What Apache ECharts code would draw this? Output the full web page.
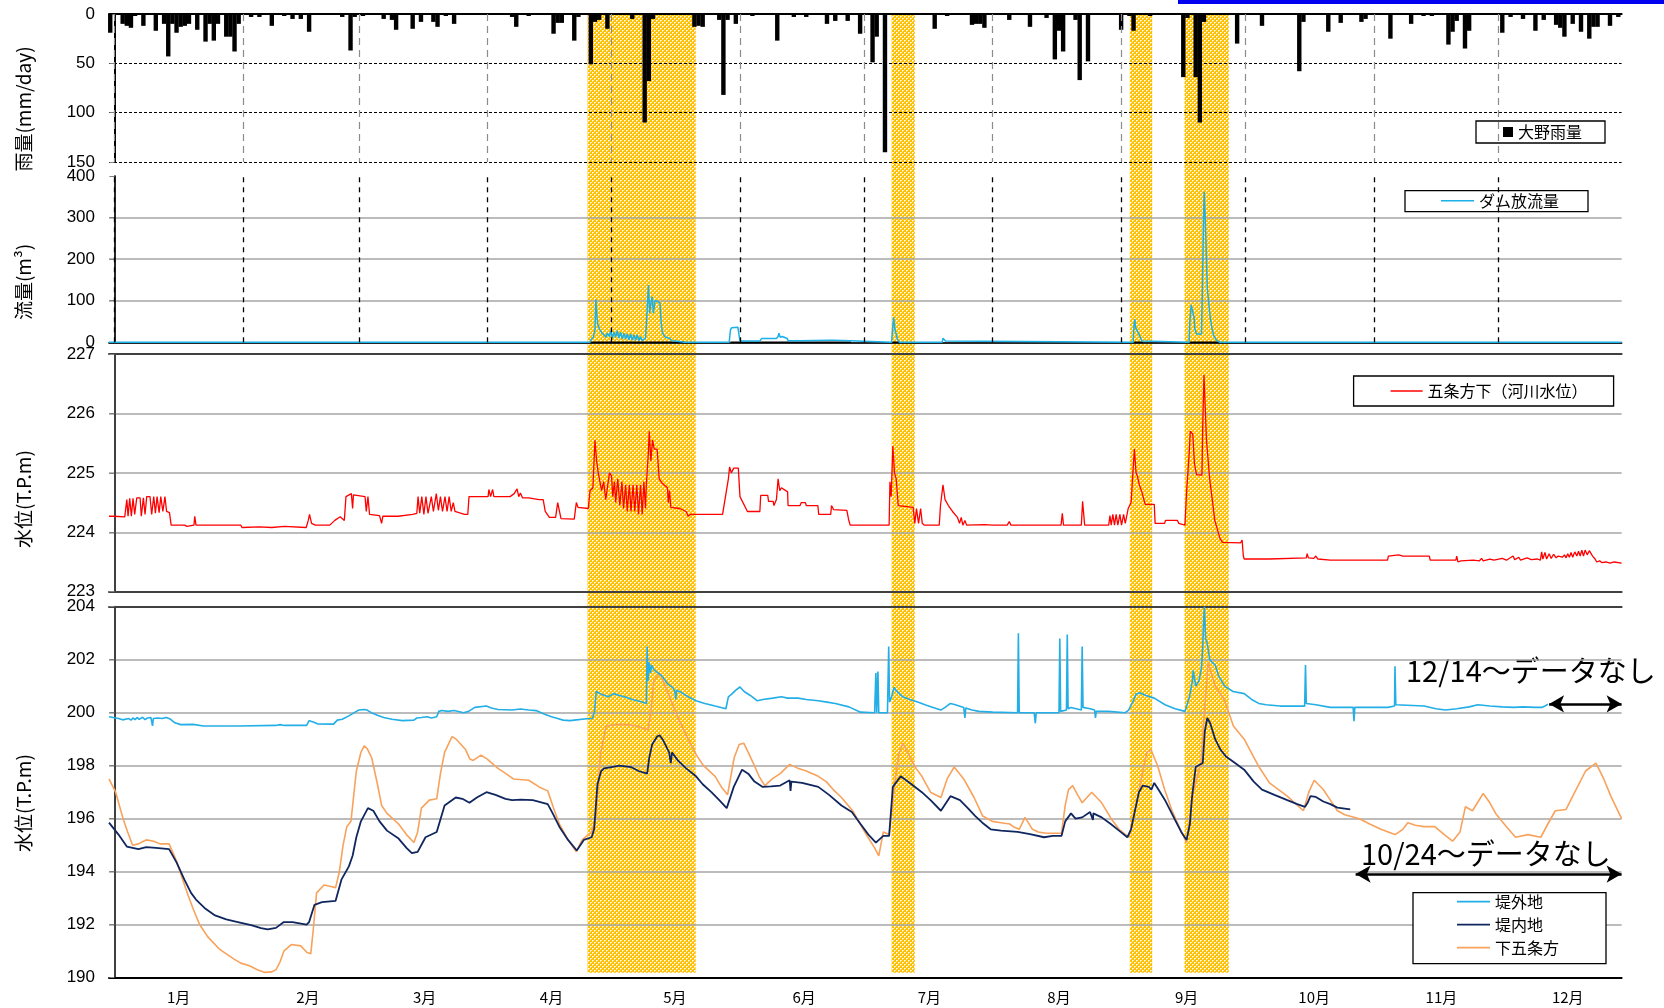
<!DOCTYPE html>
<html>
<head>
<meta charset="utf-8">
<script src="https://cdn.jsdelivr.net/npm/echarts@6/dist/echarts.min.js"></script>
<style>
  html, body { margin: 0; padding: 0; background: #fff; }
  #chart { width: 1664px; height: 1008px; }
</style>
</head>
<body>
<div id="chart"></div>
<script>
// ---- x axis: day offsets from 1 Jan (day 0) ----
const X_MIN = -1.3, X_MAX = 363.8;
const monthStartDays = [0, 31, 59, 90, 120, 151, 181, 212, 243, 273, 304, 334];
const monthLabels = ['1月', '2月', '3月', '4月', '5月', '6月', '7月', '8月', '9月', '10月', '11月', '12月'];
const monthLabelDays = [15.5, 46.7, 74.9, 105.5, 135.3, 166.5, 196.7, 228, 258.8, 289.6, 320.3, 350.8];

// flood periods [startDay, endDay]
const floodBands = [[114.2, 140.3], [187.6, 193.2], [245.1, 250.5], [258.3, 269.0]];

// 大野雨量 (mm/day): [day, mm]
const rainfall = [[-1,19],[2,10],[3,12],[4,14],[5,2],[7,12],[10,17],[12,10],[13,43],[14,10],[15,19],[16,13],[17,12],[18,10],[20,16],[22,28],[23,10],[24,27],[25,10],[27,23],[28,23],[29,38],[30,10],[33,3],[35,3],[38,12],[41,2],[43,5],[45,5],[47,18],[55,3],[57,37],[58,3],[60,2],[65,5],[67,6],[68,16],[72,15],[74,8],[77,8],[78,13],[80,2],[82,10],[96,3],[97,13],[100,2],[106,20],[107,9],[108,9],[111,27],[112,3],[115,51],[116,8],[117,6],[119,15],[125,5],[128,110],[129,68],[130,5],[140,13],[141,12],[142,13],[146,6],[147,82],[148,6],[150,10],[154,2],[160,27],[164,3],[167,3],[172,10],[174,7],[177,7],[180,20],[183,49],[184,23],[186,140],[198,15],[201,2],[207,11],[208,10],[209,10],[210,14],[216,6],[221,13],[225,4],[227,46],[228,17],[229,38],[232,6],[233,67],[235,48],[243,16],[245,2],[246,17],[250,2],[258,64],[259,4],[261,64],[262,110],[263,8],[271,30],[277,12],[286,58],[287,8],[293,18],[296,9],[301,8],[302,5],[308,25],[313,10],[316,2],[318,2],[322,31],[323,18],[324,7],[326,35],[327,17],[335,19],[337,3],[340,5],[343,17],[345,6],[348,11],[349,14],[350,23],[352,10],[354,18],[356,25],[357,13],[358,13],[361,12],[363,3]];

// ダム放流量 (m3/s): [day, value]
const damFlow = [[-1.3,0],[114.8,0],[115,6],[115.6,12],[116,30],[116.2,103],[116.5,60],[116.7,42],[117.2,30],[117.7,22],[118.2,18],[118.6,12],[119,22],[119.5,14],[119.8,28],[120.2,10],[120.6,25],[121,12],[121.4,28],[121.8,10],[122.2,24],[122.6,8],[123,22],[123.4,8],[123.8,20],[124.2,6],[124.6,20],[125,5],[125.4,18],[125.8,5],[126.2,18],[126.6,4],[127,14],[127.4,4],[127.8,8],[128.2,10],[128.5,60],[128.9,138],[129.2,70],[129.5,95],[129.8,110],[130.1,70],[130.5,100],[131.2,98],[131.7,93],[132,45],[132.3,22],[133,12],[134,10],[134.5,4],[135.5,3],[137.5,0],[148.4,0],[148.7,30],[149,35],[150.5,36],[150.8,33],[151,3],[155.8,3],[156.2,9],[159.8,9],[160.2,14],[160.4,22],[160.7,12],[161.2,14],[162.4,9],[162.6,4],[165.6,4],[166,5],[172.8,5],[173.1,8],[173.5,5],[177.6,4],[177.8,0],[187.6,0],[187.9,40],[188.1,60],[188.4,30],[188.7,20],[189,8],[189.5,0],[199.8,0],[200,10],[200.3,12],[200.6,3],[200.9,0],[245.9,0],[246.1,40],[246.3,55],[246.5,35],[246.8,30],[247.2,28],[247.5,15],[248,3],[248.4,0],[259.4,0],[259.6,50],[259.9,90],[260.3,88],[260.6,60],[260.8,32],[261.2,20],[262.4,20],[262.6,120],[262.9,300],[263.05,362],[263.3,300],[263.6,200],[263.8,130],[264.1,100],[264.5,60],[265,30],[265.4,15],[266,5],[266.8,0],[363.8,0]];
// periods drawn with a dark base line under the discharge trace
const damBaseSpans = [[115, 137.6], [148.7, 177.8], [187.8, 189.5], [246.2, 248.2], [259.7, 266.9]];

// 五条方下（河川水位） T.P.m
const riverLevel = [[-1.3,224.27],[0,224.27],[2.5,224.26],[3,224.55],[3.3,224.27],[3.7,224.57],[4.1,224.27],[4.5,224.57],[4.9,224.3],[5.4,224.58],[6.2,224.58],[6.5,224.27],[7,224.58],[7.4,224.3],[7.8,224.6],[8.6,224.6],[9,224.3],[9.5,224.6],[9.9,224.32],[10.3,224.6],[10.8,224.33],[11.2,224.6],[11.7,224.35],[12.2,224.6],[12.6,224.35],[13.3,224.33],[13.7,224.12],[17,224.12],[17.5,224.1],[19.2,224.12],[19.4,224.27],[19.7,224.12],[30.5,224.12],[30.8,224.08],[35,224.09],[38,224.08],[41,224.1],[46.3,224.08],[46.8,224.2],[47.1,224.3],[47.6,224.15],[48.5,224.12],[52,224.12],[53.2,224.2],[54.5,224.26],[55.5,224.2],[55.9,224.6],[57.2,224.65],[57.5,224.4],[57.7,224.63],[60.5,224.6],[60.8,224.35],[61.2,224.6],[61.6,224.3],[64,224.28],[64.5,224.15],[64.8,224.27],[68.5,224.27],[72,224.3],[73,224.32],[73.3,224.6],[73.7,224.32],[74.2,224.6],[74.7,224.3],[75.2,224.6],[75.7,224.32],[76.5,224.6],[77,224.35],[77.7,224.65],[78.2,224.37],[78.7,224.6],[79.2,224.35],[79.8,224.6],[80.3,224.35],[80.8,224.6],[81.3,224.35],[81.8,224.5],[82.2,224.35],[84.5,224.3],[85.3,224.3],[85.6,224.6],[90.2,224.6],[90.4,224.72],[90.8,224.6],[91.3,224.72],[91.6,224.6],[95.5,224.6],[96.5,224.65],[97.2,224.73],[97.6,224.6],[98,224.66],[98.5,224.58],[100,224.58],[102.5,224.55],[103.5,224.55],[104,224.35],[105,224.25],[106.5,224.25],[107,224.5],[107.4,224.5],[107.8,224.23],[111,224.22],[111.5,224.5],[111.9,224.42],[114.4,224.4],[114.8,224.7],[115.5,224.75],[116,225.55],[116.4,225.2],[116.8,225.0],[117.2,224.85],[117.6,224.7],[118.1,224.85],[118.6,224.55],[119,224.75],[119.5,225.0],[120,224.95],[120.3,224.6],[120.7,224.85],[121,224.5],[121.5,224.9],[122,224.45],[122.5,224.85],[122.9,224.4],[123.4,224.8],[123.8,224.35],[124.3,224.8],[124.7,224.35],[125.2,224.8],[125.6,224.35],[126.1,224.8],[126.5,224.3],[127,224.8],[127.4,224.3],[127.8,224.85],[128.2,224.4],[128.4,224.8],[128.9,225.35],[129.1,225.7],[129.5,225.2],[129.9,225.55],[130.3,225.4],[131,225.4],[131.5,224.9],[132.3,224.82],[133.5,224.75],[133.7,224.5],[134,224.7],[134.3,224.42],[136.5,224.4],[138,224.35],[138.5,224.27],[139,224.3],[146.3,224.3],[146.8,224.3],[147.5,224.6],[148.2,224.9],[148.5,225.1],[148.9,225.0],[149.5,225.08],[150.6,225.08],[151,224.6],[152.8,224.35],[155.8,224.35],[156,224.62],[157.7,224.62],[157.9,224.52],[159,224.52],[159.2,224.45],[159.8,224.55],[160.2,224.9],[160.6,224.7],[161,224.75],[162.5,224.68],[162.6,224.45],[165.5,224.45],[165.8,224.5],[166.8,224.5],[167,224.45],[169.8,224.45],[170,224.3],[172.9,224.3],[173.1,224.45],[173.6,224.38],[176.8,224.37],[177.2,224.22],[177.6,224.12],[183.6,224.12],[184,224.15],[184.4,224.12],[187,224.12],[187.2,224.85],[187.5,224.6],[187.9,225.45],[188.3,225.0],[188.7,224.9],[189.2,224.45],[192.8,224.42],[193.2,224.15],[193.6,224.4],[194.1,224.15],[194.6,224.4],[195,224.15],[195.5,224.12],[199.1,224.12],[199.4,224.45],[200,224.8],[200.5,224.55],[201.3,224.45],[202.3,224.35],[203.5,224.25],[204,224.15],[204.4,224.25],[204.8,224.12],[205.3,224.2],[205.7,224.12],[210,224.13],[212,224.12],[215.5,224.12],[216,224.18],[216.4,224.12],[228.5,224.12],[228.8,224.32],[229.1,224.12],[233.4,224.12],[233.7,224.52],[234.2,224.12],[240,224.12],[240.3,224.28],[240.6,224.12],[241,224.3],[241.4,224.12],[241.8,224.3],[242.2,224.12],[242.7,224.3],[243.1,224.12],[243.6,224.3],[244,224.15],[244.7,224.4],[245.4,224.5],[246.2,225.4],[246.6,225.0],[246.9,224.95],[247.4,224.8],[248,224.68],[248.8,224.47],[251,224.47],[251.2,224.15],[253.5,224.15],[253.7,224.2],[256.6,224.2],[256.9,224.15],[258.4,224.12],[258.8,224.68],[259.4,225.3],[259.7,225.7],[260.3,225.65],[260.7,225.15],[261.2,224.97],[262.5,224.96],[262.7,225.8],[263,226.65],[263.3,226.1],[263.6,225.55],[264.4,224.88],[265,224.55],[265.6,224.2],[266.9,223.89],[267.5,223.83],[271.8,223.82],[272.2,223.87],[272.5,223.6],[272.7,223.55],[278.8,223.55],[279,223.57],[287.7,223.57],[287.9,223.64],[288.2,223.57],[289.5,223.56],[290,223.6],[290.5,223.55],[293.5,223.53],[307.3,223.53],[307.5,223.6],[310,223.62],[311,223.6],[317.4,223.6],[317.6,223.53],[323.8,223.53],[324,223.6],[324.3,223.5],[325,223.52],[328,223.53],[329.5,223.52],[330,223.56],[330.4,223.52],[332,223.55],[333,223.53],[335,223.56],[336,223.53],[337.6,223.6],[338,223.54],[339,223.58],[339.4,223.53],[341,223.57],[342,223.54],[343.5,223.55],[344.2,223.53],[344.5,223.67],[344.8,223.55],[345.3,223.66],[345.7,223.55],[346.3,223.64],[346.8,223.56],[347.4,223.63],[348,223.57],[348.5,223.6],[349.5,223.58],[350,223.62],[350.4,223.57],[350.8,223.64],[351.2,223.58],[351.6,223.66],[352,223.58],[352.5,223.67],[353,223.6],[353.4,223.68],[353.8,223.6],[354.2,223.7],[354.6,223.6],[355,223.7],[355.5,223.62],[356,223.69],[356.8,223.6],[357.4,223.55],[357.8,223.5],[358.5,223.52],[359,223.49],[360,223.5],[361,223.48],[362,223.5],[363.8,223.48]];

// 地下水位 T.P.m — 堤外地
const gwOutside = [[-1.3,199.85],[1,199.78],[2,199.73],[3.5,199.78],[4,199.72],[4.5,199.8],[5,199.74],[5.5,199.82],[6,199.75],[6.8,199.83],[7.4,199.74],[8,199.8],[8.8,199.82],[9.2,199.5],[9.4,199.78],[10.5,199.8],[11.5,199.78],[12.5,199.82],[13.5,199.76],[14.6,199.62],[16,199.55],[19,199.56],[21.5,199.5],[30,199.5],[39,199.52],[40,199.55],[41,199.52],[46.4,199.52],[47,199.7],[48,199.65],[49,199.58],[52.9,199.57],[53.8,199.72],[55,199.75],[56.6,199.88],[58.4,200.05],[59,200.1],[60.3,200.12],[61,200.1],[62,200.0],[63.5,199.9],[65,199.82],[67,199.75],[69.5,199.7],[72.3,199.72],[73,199.8],[74.1,199.82],[75.5,199.85],[76.5,199.8],[77.8,199.85],[78.3,200.05],[79,200.08],[80.5,200.05],[82,200.08],[84.3,200.0],[85.5,200.05],[87,200.2],[89.8,200.25],[91,200.18],[92.6,200.12],[96,200.1],[98,200.14],[100,200.1],[101.8,200.08],[103.7,199.95],[105.5,199.85],[107,199.78],[108.3,199.72],[110,199.7],[111,199.72],[114,199.77],[115.4,199.78],[115.9,200.05],[116.3,200.8],[116.6,200.75],[117.5,200.7],[119.2,200.6],[120.5,200.72],[121.9,200.65],[123.5,200.58],[125,200.5],[127,200.42],[128.4,200.35],[128.6,202.5],[128.8,201.2],[129.1,201.9],[129.4,201.5],[129.7,201.8],[130.1,201.65],[130.8,201.55],[132.1,201.4],[133.5,201.1],[134.8,200.95],[135.3,200.8],[135.5,200.5],[135.7,200.85],[136.7,200.78],[138.5,200.6],[140.4,200.45],[142.5,200.35],[145,200.25],[147.6,200.15],[148.2,200.6],[149,200.7],[150,200.85],[151,200.97],[152,200.8],[153.5,200.65],[155.2,200.45],[156.5,200.5],[158.9,200.55],[161,200.6],[162.5,200.55],[165,200.55],[167,200.5],[169.9,200.45],[172,200.4],[174,200.35],[177.3,200.22],[180.1,200.02],[183.5,200.0],[183.8,201.5],[184,200.0],[184.3,201.55],[184.5,200.0],[186.6,200.0],[186.9,202.5],[187.1,200.4],[187.6,200.6],[188.2,200.95],[188.6,200.85],[190.3,200.6],[192,200.5],[193.9,200.4],[196,200.28],[197.6,200.2],[199.5,200.1],[200.5,200.2],[201.8,200.35],[203,200.3],[205,200.2],[205.3,199.8],[205.5,200.18],[207,200.1],[208.7,200.05],[212,200.02],[218,200.0],[218.2,203.0],[218.4,200.0],[222,200.0],[222.3,199.6],[222.5,200.0],[228,200.0],[228.2,202.8],[228.4,200.05],[229.8,200.1],[230,202.95],[230.2,200.15],[230.9,200.2],[233.4,200.1],[233.6,202.5],[233.8,200.2],[235.5,200.15],[236.6,200.1],[236.8,199.8],[237,200.05],[238,200.05],[240,200.05],[244,200.0],[244.8,200.1],[245.8,200.4],[246.6,200.7],[247.5,200.75],[249,200.65],[251,200.55],[253.6,200.3],[256,200.15],[258.4,200.05],[259.5,200.6],[260.2,201.2],[260.4,201.6],[261,201.0],[261.8,201.2],[262.4,201.7],[262.7,202.5],[262.9,203.4],[263.1,204.0],[263.4,202.8],[263.8,202.6],[264.4,202.0],[265,201.9],[265.7,201.8],[266.5,201.4],[268,201.0],[270,200.8],[272.7,200.72],[274.5,200.5],[276.2,200.35],[278,200.3],[281.4,200.25],[287.3,200.25],[287.5,201.8],[287.7,200.35],[290,200.3],[293.5,200.2],[299,200.2],[299.2,199.68],[299.4,200.2],[307.4,200.2],[309,200.25],[309.1,201.75],[309.3,200.3],[312,200.28],[316.1,200.25],[319,200.15],[321.3,200.1],[324,200.15],[327,200.22],[329.1,200.3],[332,200.25],[335,200.22],[337.8,200.2],[340,200.22],[343,200.2],[344.5,200.2],[345.3,200.25],[346,200.32]];

// 地下水位 T.P.m — 堤内地
const gwInside = [[-1.3,195.85],[1,195.4],[3,194.95],[5.8,194.85],[7.7,194.93],[10,194.9],[13.2,194.85],[15,194.35],[16.9,193.7],[18.5,193.2],[19.7,192.95],[22,192.6],[24.3,192.35],[27,192.2],[29.8,192.1],[33,191.98],[35.4,191.87],[37,191.82],[39,191.88],[40.9,192.1],[43,192.1],[46.4,192.0],[47,192.1],[48.3,192.75],[50.1,192.85],[53.4,192.9],[54.8,193.7],[56.6,194.2],[57.5,194.6],[58.4,195.3],[59.5,195.9],[61.2,196.4],[62.5,196.3],[64,195.9],[65.8,195.55],[68.6,195.25],[70.5,194.9],[71.8,194.7],[73.2,194.75],[75.1,195.3],[77.8,195.5],[79.7,196.5],[82.4,196.8],[84,196.75],[85.7,196.6],[87.5,196.8],[89.8,197.0],[92,196.9],[94.4,196.75],[96,196.7],[98.1,196.72],[101,196.7],[104.6,196.55],[105.8,196.2],[107.4,195.7],[109.5,195.2],[111.6,194.8],[113.3,195.2],[115.2,195.3],[115.8,195.6],[116.6,197.3],[117.5,197.8],[118.2,197.9],[120,197.95],[121.9,198.0],[124.7,197.95],[126.5,197.8],[128.6,197.7],[129.1,198.3],[129.8,198.8],[131,199.1],[131.6,199.15],[132.5,198.95],[133.9,198.5],[134.3,198.1],[134.6,198.5],[136,198.2],[138,197.9],[140.4,197.6],[142,197.3],[144.1,197.0],[146,196.7],[147.8,196.4],[149.5,197.2],[151.5,197.85],[153,197.7],[154.5,197.4],[156.5,197.2],[158.5,197.22],[160.7,197.25],[163,197.45],[163.2,197.05],[163.4,197.4],[166,197.35],[169.9,197.2],[172.5,196.9],[175.5,196.5],[178,196.25],[180.1,195.8],[182,195.4],[183.8,195.1],[185.6,195.35],[187,195.35],[187.9,197.2],[189.8,197.6],[192,197.35],[194.9,197.0],[197,196.7],[199.5,196.3],[201.8,196.85],[204.1,196.7],[206,196.4],[207.8,196.1],[209.5,195.85],[211.5,195.6],[214,195.55],[218,195.5],[221,195.42],[224.4,195.3],[226.5,195.35],[228.6,195.35],[229.5,195.9],[230.9,196.2],[232,196.0],[233.6,196.05],[235.5,196.25],[236.2,195.95],[236.3,196.2],[238.3,196.05],[240.5,195.8],[242.5,195.55],[244.5,195.3],[245.4,195.6],[246.2,196.2],[247.3,197.0],[248.2,197.25],[249.7,197.2],[250.3,197.1],[251,197.35],[252,197.1],[253.6,196.7],[256.2,195.9],[257.5,195.5],[258.8,195.2],[259.6,195.8],[260.1,196.8],[261,197.95],[262.7,198.1],[263.2,199.3],[263.8,199.8],[264.5,199.6],[265.7,199.0],[267,198.6],[268.3,198.35],[270.5,198.1],[272.7,197.85],[275,197.4],[277,197.1],[280,196.9],[283.1,196.7],[285.5,196.55],[287.4,196.45],[288,196.6],[288.7,196.85],[290,196.82],[291.8,196.65],[293.5,196.55],[295.2,196.42],[298.3,196.35]];

// 地下水位 T.P.m — 下五条方
const gwShimogojo = [[-1.3,197.5],[0.3,197.0],[2.1,196.0],[3.2,195.5],[4.4,195.0],[5.8,195.05],[7,195.15],[7.7,195.2],[9.5,195.15],[11,195.05],[13.2,195.05],[15,194.4],[16.5,193.7],[17.8,193.1],[19,192.6],[20.6,192.0],[22.5,191.55],[25.2,191.1],[27,190.9],[28.9,190.7],[30.5,190.55],[32.6,190.45],[34.5,190.3],[36.3,190.2],[38,190.22],[39,190.3],[40,190.6],[40.9,191.0],[42.7,191.25],[45,191.2],[46.5,190.95],[47.4,190.9],[48,191.8],[48.8,193.2],[50.6,193.5],[52,193.45],[53.4,193.4],[54.3,194.0],[55.2,195.0],[56.1,195.7],[57.1,195.9],[58.4,197.8],[59.5,198.5],[60.3,198.75],[61,198.65],[62.1,198.3],[63.5,197.3],[64.5,196.5],[65.8,196.2],[68.6,195.8],[70.5,195.4],[72.3,195.1],[73.2,195.5],[74.1,196.4],[76,196.7],[77.8,196.75],[78.7,197.7],[79.7,198.5],[81.5,199.1],[82.5,199.0],[83.4,198.85],[84.8,198.6],[85.8,198.25],[86.6,198.2],[88.5,198.4],[90,198.25],[92.6,197.9],[94.5,197.7],[96.3,197.5],[100,197.45],[102.5,197.2],[104.6,197.05],[106,196.4],[107.4,195.8],[109.5,195.2],[111.5,194.75],[112.9,195.2],[115.2,195.5],[116.2,196.0],[116.8,197.2],[117.3,198.4],[118.7,199.5],[121,199.55],[123.8,199.55],[126,199.5],[128.8,199.35],[129.5,200.0],[130.2,201.2],[131.6,201.5],[133.5,200.8],[135.8,199.9],[138.5,199.0],[140.5,198.4],[142.2,198.0],[145,197.6],[146.5,197.2],[148,196.9],[149.6,198.3],[150.8,198.8],[151.9,198.85],[153,198.5],[154.2,198.1],[155.6,197.6],[157,197.25],[158.8,197.5],[160.7,197.7],[163,198.05],[165,197.9],[167,197.8],[169.9,197.6],[171.8,197.4],[173.5,197.1],[175.5,196.8],[178.2,196.3],[180,195.8],[181.9,195.3],[183.5,194.9],[184.5,194.6],[185.6,195.5],[187,195.4],[187.6,196.2],[188.4,197.4],[189.3,198.4],[190.3,198.85],[191.2,198.6],[192.1,198.3],[193.5,197.9],[194.9,197.6],[197,197.0],[199.5,196.8],[201,197.5],[202.7,197.95],[205,197.5],[207.5,196.8],[209.6,196.1],[211.9,195.9],[214,195.85],[216.1,195.8],[217,195.7],[218.4,195.6],[219.8,196.05],[221.6,195.6],[223,195.5],[224.9,195.45],[228.6,195.45],[229.5,196.5],[230.3,197.1],[231.3,197.25],[232.5,196.9],[233.6,196.6],[235.9,197.0],[238.3,196.6],[240.6,196.0],[242.5,195.6],[244.9,195.3],[246.6,196.5],[248,197.6],[249.2,198.5],[250.2,198.6],[251.8,198.0],[253.5,197.1],[255.3,196.3],[257,195.7],[258.8,195.1],[260.4,197.0],[262.3,198.1],[263,199.8],[264,201.9],[265.7,201.0],[267.9,200.5],[270.1,199.5],[272.7,199.0],[276.1,198.0],[278.8,197.35],[283.1,196.85],[287,196.3],[288.3,197.0],[289.6,197.45],[291.8,197.1],[293.5,196.7],[295.2,196.3],[297,196.15],[300.5,196.0],[303,195.8],[305.7,195.6],[309.1,195.4],[311,195.6],[312.2,195.85],[314,195.75],[316.1,195.7],[318.7,195.7],[321,195.4],[323,195.15],[324.8,195.5],[326.1,196.45],[327.8,196.3],[330.4,196.95],[332,196.6],[333.4,196.2],[336,195.7],[338.2,195.3],[341.2,195.4],[344.3,195.3],[346,195.8],[347.8,196.3],[350.4,196.35],[352.5,197.0],[355.1,197.8],[357.6,198.1],[359.5,197.5],[361.2,196.85],[363.8,196.0]];

// "no data" spans: [startDay, level]
const noDataOutside = [346.3, 200.33];
const noDataInside = [299.6, 193.91];

// ---- styling helpers ----
const FONT_NUM = '"Liberation Sans", "Noto Sans CJK JP", sans-serif';
const FONT_JP = '"Noto Sans CJK JP", sans-serif';
const GRID_LEFT = 109, GRID_RIGHT = 42.4;
const panels = [
  { top: 14, height: 148 },
  { top: 176, height: 166.3 },
  { top: 354, height: 237.7 },
  { top: 606.7, height: 371 }
];

function hatchPattern() {
  const c = document.createElement('canvas');
  c.width = 4; c.height = 4;
  const g = c.getContext('2d');
  g.fillStyle = '#FFC000';
  g.fillRect(0, 0, 4, 4);
  g.fillStyle = '#FFFFFF';
  g.fillRect(0, 0, 1, 1);
  g.fillRect(2, 2, 1, 1);
  g.fillStyle = '#FFE8A8';
  g.fillRect(1, 0, 1, 1);
  g.fillRect(0, 1, 1, 1);
  g.fillRect(3, 2, 1, 1);
  g.fillRect(2, 3, 1, 1);
  return { image: c, repeat: 'repeat' };
}

function line(color, width, type) {
  return { show: true, lineStyle: { color: color, width: width, type: type || 'solid' } };
}

const grid = panels.map(p => ({ left: GRID_LEFT, right: GRID_RIGHT, top: p.top, height: p.height }));
grid.push({ left: GRID_LEFT, right: GRID_RIGHT, top: 15, height: 957.7 });

// x axes: per panel a bottom and a top axis (frame lines)
const frameX = [
  { bottom: null, top: line('#000', 2) },
  { bottom: line('#808080', 1.5), top: line('#000', 1.5) },
  { bottom: line('#404040', 2), top: line('#404040', 2) },
  { bottom: line('#000', 2), top: line('#404040', 2) }
];
const xAxis = [];
frameX.forEach((f, i) => {
  const isLast = i === 3;
  xAxis.push({
    type: 'value', gridIndex: i, position: 'bottom', min: X_MIN, max: X_MAX,
    axisLine: f.bottom || { show: false },
    axisTick: { show: false }, splitLine: { show: false },
    axisLabel: isLast ? {
      show: true, customValues: monthLabelDays, margin: 12,
      fontFamily: FONT_JP, fontSize: 15, color: '#000',
      formatter: v => {
        const k = monthLabelDays.findIndex(d => Math.abs(d - v) < 0.01);
        return k >= 0 ? monthLabels[k] : '';
      }
    } : { show: false }
  });
  xAxis.push({
    type: 'value', gridIndex: i, position: 'top', min: X_MIN, max: X_MAX,
    axisLine: f.top, axisTick: { show: false }, axisLabel: { show: false }, splitLine: { show: false }
  });
});
xAxis.push({ type: 'value', gridIndex: 4, min: X_MIN, max: X_MAX, show: false });

const yDefs = [
  { min: 0, max: 150, interval: 50, inverse: true, left: line('#000', 2), right: line('#000', 2),
    split: { show: true, showMinLine: false, showMaxLine: true, lineStyle: { color: '#000', width: 1, type: [3, 2] } } },
  { min: 0, max: 400, interval: 100, left: line('#808080', 1.5), right: line('#000', 1.5),
    split: { show: true, showMinLine: false, showMaxLine: false, lineStyle: { color: '#A6A6A6', width: 1.5 } } },
  { min: 223, max: 227, interval: 1, left: line('#808080', 1.5), right: line('#404040', 2),
    split: { show: true, showMinLine: false, showMaxLine: false, lineStyle: { color: '#A6A6A6', width: 1.5 } } },
  { min: 190, max: 204, interval: 2, left: line('#808080', 1.5), right: line('#404040', 2),
    split: { show: true, showMinLine: false, showMaxLine: false, lineStyle: { color: '#A6A6A6', width: 1.5 } } }
];
const yAxis = [];
yDefs.forEach((d, i) => {
  yAxis.push({
    type: 'value', gridIndex: i, position: 'left', min: d.min, max: d.max, interval: d.interval,
    inverse: !!d.inverse,
    axisLine: d.left,
    axisTick: { show: true, inside: false, length: 5, lineStyle: { color: '#808080', width: 1 } },
    axisLabel: { show: true, margin: 14, fontFamily: FONT_NUM, fontSize: 17, color: '#000' },
    splitLine: d.split
  });
  yAxis.push({
    type: 'value', gridIndex: i, position: 'right', min: d.min, max: d.max, interval: d.interval,
    inverse: !!d.inverse,
    axisLine: d.right, axisTick: { show: false }, axisLabel: { show: false }, splitLine: { show: false }
  });
});
yAxis.push({ type: 'value', gridIndex: 4, min: 0, max: 1, show: false });

function monthLines(color, dash, width) {
  return {
    silent: true, symbol: 'none', label: { show: false },
    lineStyle: { color: color, type: dash, width: width },
    emphasis: { disabled: true },
    data: monthStartDays.map(d => ({ xAxis: d }))
  };
}

// dark base trace under the discharge line
const damBase = [];
damBaseSpans.forEach((s, k) => {
  if (k > 0) damBase.push([s[0] - 0.5, '-']);
  damBase.push([s[0], 0], [s[1], 0]);
});

const pattern = hatchPattern();

const series = [
  {
    name: 'floodBands', type: 'custom', xAxisIndex: 8, yAxisIndex: 8, z: -1, silent: true,
    data: floodBands,
    renderItem: (params, api) => {
      const a = api.coord([api.value(0), 1]);
      const b = api.coord([api.value(1), 0]);
      return { type: 'rect', shape: { x: a[0], y: a[1], width: b[0] - a[0], height: b[1] - a[1] },
               style: { fill: pattern } };
    }
  },
  {
    name: '大野雨量', type: 'bar', xAxisIndex: 0, yAxisIndex: 0, barWidth: 4.4,
    itemStyle: { color: '#000' }, data: rainfall, silent: true,
    markLine: monthLines('#8C8C8C', [7, 5], 1.2)
  },
  {
    name: 'damBase', type: 'line', xAxisIndex: 2, yAxisIndex: 2, showSymbol: false, symbol: 'none',
    lineStyle: { color: '#000', width: 1.5 }, data: damBase, silent: true,
    markLine: monthLines('#000', [5, 5], 1.3)
  },
  {
    name: 'ダム放流量', type: 'line', xAxisIndex: 2, yAxisIndex: 2, symbol: 'none',
    itemStyle: { color: '#1AB0E8' }, lineStyle: { color: '#1AB0E8', width: 1.5 }, data: damFlow, silent: true
  },
  {
    name: '五条方下（河川水位）', type: 'line', xAxisIndex: 4, yAxisIndex: 4, symbol: 'none',
    itemStyle: { color: '#FF0000' }, lineStyle: { color: '#FF0000', width: 1.3 }, data: riverLevel, silent: true
  },
  {
    name: '下五条方', type: 'line', xAxisIndex: 6, yAxisIndex: 6, symbol: 'none',
    itemStyle: { color: '#F8A25C' }, lineStyle: { color: '#F8A25C', width: 1.6 }, data: gwShimogojo, silent: true
  },
  {
    name: '堤内地', type: 'line', xAxisIndex: 6, yAxisIndex: 6, symbol: 'none',
    itemStyle: { color: '#10265E' }, lineStyle: { color: '#10265E', width: 1.8 }, data: gwInside, silent: true
  },
  {
    name: '堤外地', type: 'line', xAxisIndex: 6, yAxisIndex: 6, symbol: 'none',
    itemStyle: { color: '#22AEE6' }, lineStyle: { color: '#22AEE6', width: 1.6 }, data: gwOutside, silent: true,
    markLine: {
      silent: true, symbol: ['arrow', 'arrow'], symbolSize: [13, 15], label: { show: false },
      lineStyle: { color: '#000', width: 2.5, type: 'solid' },
      emphasis: { disabled: true },
      data: [
        [{ coord: [noDataOutside[0], noDataOutside[1]] }, { coord: [X_MAX, noDataOutside[1]] }],
        [{ coord: [noDataInside[0], noDataInside[1]] }, { coord: [X_MAX, noDataInside[1]] }]
      ]
    }
  }
];

const legendText = { fontFamily: FONT_JP, fontSize: 16, color: '#000' };
const legendBox = { borderColor: '#000', borderWidth: 1.3, backgroundColor: '#fff', selectedMode: false };
const legend = [
  Object.assign({ data: ['大野雨量'], left: 1476, top: 121, padding: [3, 23, 3, 27], icon: 'rect',
    itemWidth: 10, itemHeight: 10, itemGap: 0, textStyle: legendText }, legendBox),
  Object.assign({ data: ['ダム放流量'], left: 1405, top: 190.7, padding: [2, 29, 3, 36], icon: 'rect',
    itemWidth: 33, itemHeight: 1.6, textStyle: legendText }, legendBox),
  Object.assign({ data: ['五条方下（河川水位）'], left: 1353.6, top: 376, padding: [7, 26, 7, 37], icon: 'rect',
    itemWidth: 32, itemHeight: 1.6, textStyle: legendText }, legendBox),
  Object.assign({ data: ['堤外地', '堤内地', '下五条方'], left: 1413, top: 892.7, orient: 'vertical', icon: 'rect',
    padding: [1, 47, 8, 44], itemGap: 7, itemWidth: 33, itemHeight: 1.8, textStyle: legendText }, legendBox)
];

function axisTitle(text, cx, cy) {
  return {
    type: 'text', x: cx, y: cy, rotation: Math.PI / 2, silent: true,
    style: { text: text, font: '19px ' + FONT_JP, fill: '#000',
             align: 'center', verticalAlign: 'middle', textAlign: 'center', textVerticalAlign: 'middle' }
  };
}
function note(text, x, y) {
  return {
    type: 'text', x: x, y: y, silent: true,
    style: { text: text, font: '29px ' + FONT_JP, fill: '#000',
             align: 'left', verticalAlign: 'middle', textAlign: 'left', textVerticalAlign: 'middle' }
  };
}

const graphic = [
  { type: 'rect', shape: { x: 1178, y: 0, width: 486, height: 4 }, style: { fill: '#0000F0' }, silent: true },
  axisTitle('雨量(mm/day)', 24, 109),
  axisTitle('流量(m³)', 24, 282),
  axisTitle('水位(T.P.m)', 24, 499),
  axisTitle('水位(T.P.m)', 24, 803),
  note('12/14～データなし', 1406, 671),
  note('10/24～データなし', 1361, 854)
];

const chart = echarts.init(document.getElementById('chart'), null, { renderer: 'canvas' });
chart.setOption({
  animation: false,
  backgroundColor: '#fff',
  grid: grid,
  xAxis: xAxis,
  yAxis: yAxis,
  legend: legend,
  series: series,
  graphic: graphic
});
</script>
</body>
</html>
